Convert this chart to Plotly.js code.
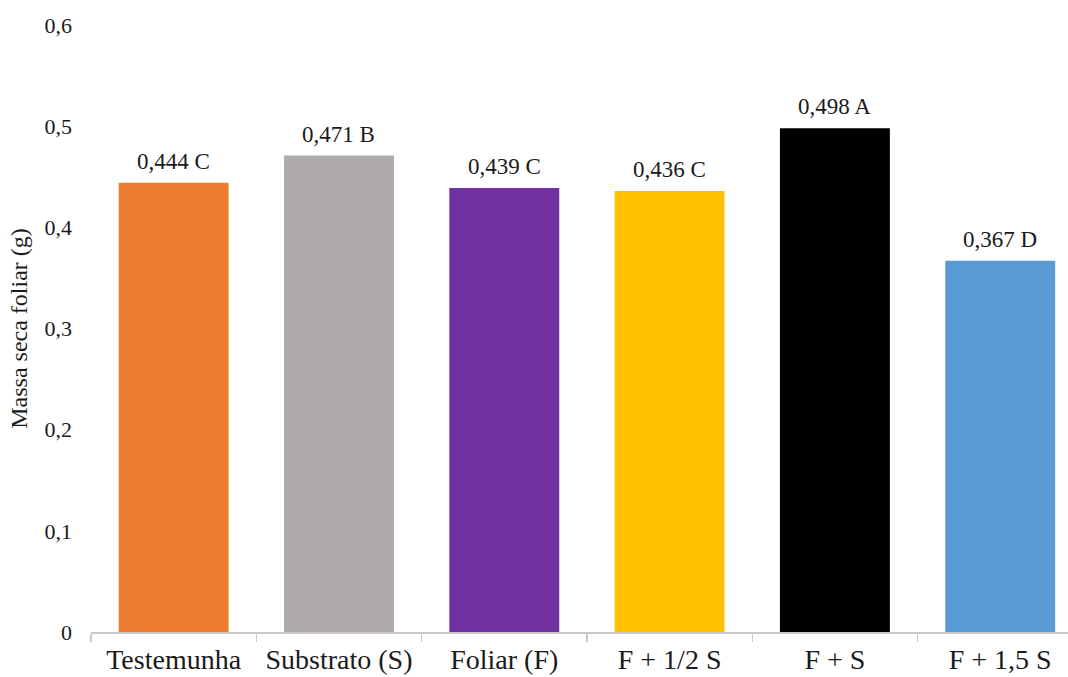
<!DOCTYPE html>
<html>
<head>
<meta charset="utf-8">
<script src="https://cdn.plot.ly/plotly-3.0.1.min.js"></script>
<style>
  html, body { margin: 0; padding: 0; background: #ffffff; }
  #chart { width: 1068px; height: 677px; }
</style>
</head>
<body>
<div id="chart"></div>
<script>
// Dry leaf mass per treatment, with the mean-comparison letter for each
const treatments = ['Testemunha', 'Substrato (S)', 'Foliar (F)', 'F + 1/2 S', 'F + S', 'F + 1,5 S'];
const leafMass = [0.444, 0.471, 0.439, 0.436, 0.498, 0.367];
const groupLetters = ['C', 'B', 'C', 'C', 'A', 'D'];
const barColors = ['#ED7D31', '#AEAAAA', '#7030A0', '#FFC000', '#000000', '#5B9BD5'];

const serif = 'Liberation Serif, Times New Roman, serif';

const labelText = leafMass.map((v, i) => v.toFixed(3).replace('.', ',') + ' ' + groupLetters[i]);

const trace = {
  type: 'bar',
  x: treatments,
  y: leafMass,
  marker: { color: barColors, line: { width: 0 } },
  hoverinfo: 'skip'
};

const annotations = treatments.map((t, i) => ({
  x: t,
  y: leafMass[i],
  xref: 'x',
  yref: 'y',
  text: labelText[i],
  showarrow: false,
  yanchor: 'bottom',
  yshift: 7,
  font: { family: serif, size: 23, color: '#1a1a1a' }
}));

const layout = {
  width: 1068,
  height: 677,
  margin: { l: 91, r: 0, t: 25, b: 45 },
  paper_bgcolor: '#ffffff',
  plot_bgcolor: '#ffffff',
  separators: ',.',
  showlegend: false,
  bargap: 0.335,
  font: { family: serif, color: '#1a1a1a' },
  xaxis: {
    type: 'category',
    range: [-0.5, 5.41],
    showline: true,
    linecolor: '#C8C8C8',
    linewidth: 1.5,
    ticks: 'outside',
    tickson: 'boundaries',
    ticklen: 8,
    tickcolor: '#C8C8C8',
    tickwidth: 1.5,
    showgrid: false,
    ticklabelstandoff: 2,
    tickfont: { family: serif, size: 28, color: '#1a1a1a' },
    fixedrange: true
  },
  yaxis: {
    range: [0, 0.6],
    dtick: 0.1,
    tick0: 0,
    showline: false,
    showgrid: false,
    zeroline: false,
    ticks: '',
    ticklabelstandoff: 18,
    tickfont: { family: serif, size: 22, color: '#1a1a1a' },
    title: { text: 'Massa seca foliar (g)', font: { family: serif, size: 24, color: '#1a1a1a' }, standoff: 10 },
    fixedrange: true
  },
  annotations: annotations
};

Plotly.newPlot('chart', [trace], layout, { displayModeBar: false, staticPlot: true });
</script>
</body>
</html>
